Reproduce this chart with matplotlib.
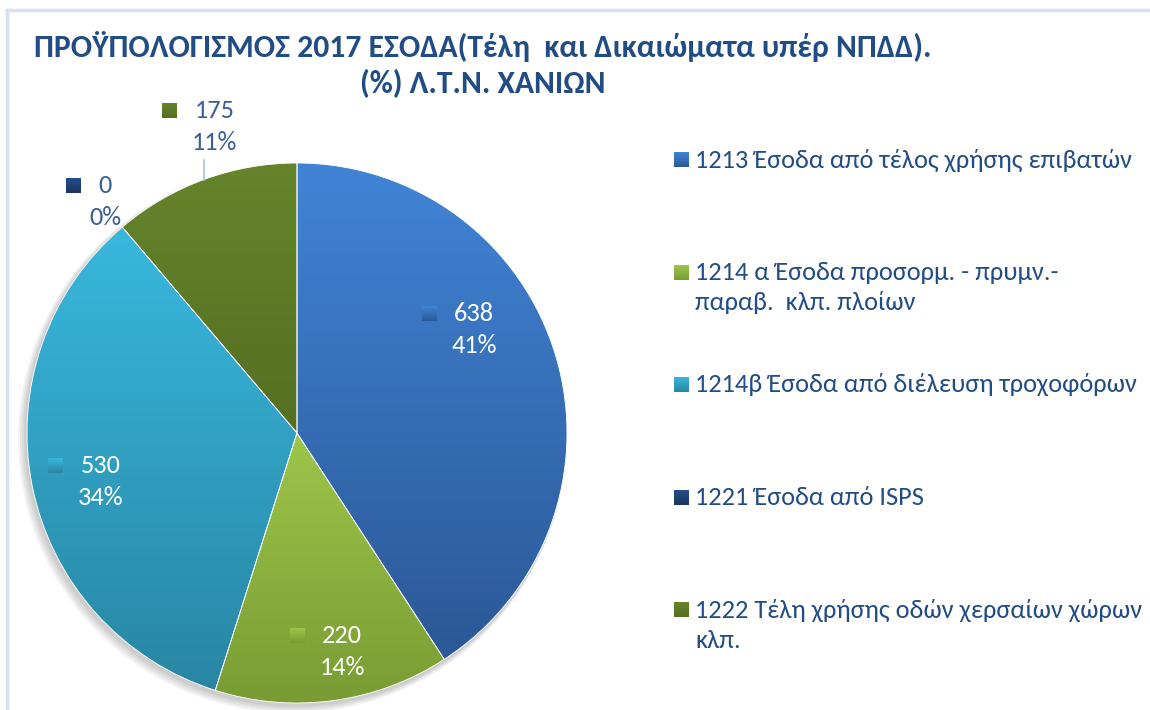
import numpy as np
import matplotlib
matplotlib.use("Agg")
import matplotlib.pyplot as plt
from matplotlib.colors import LinearSegmentedColormap
from matplotlib.patches import Circle

plt.rcParams['font.family'] = ['Carlito', 'DejaVu Sans']

# ---- data ----
title_line1 = "ΠΡΟΫΠΟΛΟΓΙΣΜΟΣ 2017 ΕΣΟΔΑ(Τέλη  και Δικαιώματα υπέρ ΝΠΔΔ)."
title_line2 = "(%) Λ.Τ.Ν. ΧΑΝΙΩΝ"
categories = [
    "1213 Έσοδα από τέλος χρήσης επιβατών",
    "1214 α Έσοδα προσορμ. - πρυμν.-\nπαραβ.  κλπ. πλοίων",
    "1214β Έσοδα από διέλευση τροχοφόρων",
    "1221 Έσοδα από ISPS",
    "1222 Τέλη χρήσης οδών χερσαίων χώρων\nκλπ.",
]
values = [638, 220, 530, 0, 175]
percents = ["41%", "14%", "34%", "0%", "11%"]

# gradient colours (top, bottom) per slice
grad_top = ["#4184d6", "#9dc64b", "#39b8de", "#234f8c", "#66842b"]
grad_bot = ["#2b5896", "#789c33", "#2886a3", "#1a3560", "#546f22"]
label_colors = ["white", "white", "white", "#3a5f96", "#3a5f96"]
# label placement: radius fraction and angle shift from slice middle (deg)
label_radius = [0.76, 0.825, 0.75, 1.115, 1.174]
label_shift = [13.8, 4.0, 2.4, -0.7, -5.1]
text_color = "#214c85"

W, H = 1150, 710
fig = plt.figure(figsize=(W / 100, H / 100), dpi=100)
ax = fig.add_axes([0, 0, 1, 1])

cx, cy, R = 297, H - 433, 270


def Y(y):  # pixel-from-top -> data
    return H - y


def gradient_fill(ax, extent, c_top, c_bot, clip=None, zorder=2):
    cmap = LinearSegmentedColormap.from_list("g", [c_bot, c_top])
    grad = np.linspace(0, 1, 256).reshape(-1, 1)
    im = ax.imshow(grad, extent=extent, origin="lower", cmap=cmap,
                   aspect="auto", interpolation="bilinear", zorder=zorder)
    if clip is not None:
        im.set_clip_path(clip)
    return im


# soft shadow
for k in range(4):
    ax.add_patch(Circle((cx - 2 - k, cy - 3 - k), R + 1 + k, color="black",
                        alpha=0.05, lw=0, zorder=0))

wedges, _ = ax.pie(values, center=(cx, cy), radius=R, startangle=90,
                   counterclock=False, frame=True,
                   wedgeprops=dict(edgecolor="white", linewidth=0.6))

for i, w in enumerate(wedges):
    t1, t2 = np.deg2rad(w.theta1), np.deg2rad(w.theta2)
    ts = np.linspace(t1, t2, 200)
    xs = np.concatenate([[cx], cx + R * np.cos(ts)])
    ys = np.concatenate([[cy], cy + R * np.sin(ts)])
    if values[i] > 0:
        gradient_fill(ax, [xs.min(), xs.max(), ys.min(), ys.max()],
                      grad_top[i], grad_bot[i], clip=w, zorder=1.5)
        w.set_facecolor("none")
        w.set_zorder(2)

    mid = np.deg2rad((w.theta1 + w.theta2) / 2 + label_shift[i])
    lx = cx + label_radius[i] * R * np.cos(mid)
    ly = cy + label_radius[i] * R * np.sin(mid)
    vtxt = str(values[i])
    ax.text(lx, ly + 16, vtxt, ha="center", va="center", fontsize=19,
            color=label_colors[i], zorder=5)
    ax.text(lx, ly - 16, percents[i], ha="center", va="center", fontsize=19,
            color=label_colors[i], zorder=5)
    half = 6.6 * len(vtxt)
    mx = lx - half - 25
    gradient_fill(ax, [mx - 7.5, mx + 7.5, ly + 16 - 7.5, ly + 16 + 7.5],
                  grad_top[i], grad_bot[i], zorder=5)

# leader line for the small olive slice
w = wedges[4]
mid = np.deg2rad((w.theta1 + w.theta2) / 2)
ex, ey = cx + R * np.cos(mid), cy + R * np.sin(mid)
ax.plot([ex, ex], [ey, Y(160)], color="#a9c4e6", lw=1.3, zorder=4)

# title
ax.text(483, Y(46), title_line1, ha="center", va="center", fontsize=22.8,
        fontweight="bold", color=text_color)
ax.text(483, Y(84), title_line2, ha="center", va="center", fontsize=22.8,
        fontweight="bold", color=text_color)

# legend
leg_y0, leg_dy = 160, 112.5
for i, lab in enumerate(categories):
    yy = leg_y0 + i * leg_dy
    gradient_fill(ax, [674, 689, Y(yy) - 7.5, Y(yy) + 7.5], grad_top[i],
                  grad_bot[i], zorder=5)
    parts = lab.split("\n")
    for j, part in enumerate(parts):
        ax.text(695, Y(yy + 30 * j), part, ha="left", va="center",
                fontsize=19, color=text_color)

# frame border
ax.plot([7, W + 5], [Y(10), Y(10)], color="#d6e2f2", lw=2.5, zorder=6)
ax.plot([7, 7], [Y(10), -5], color="#d6e2f2", lw=2.5, zorder=6)

ax.set_xlim(0, W)
ax.set_ylim(0, H)
ax.set_aspect("auto")
ax.axis("off")

fig.savefig("out.png", dpi=100)
